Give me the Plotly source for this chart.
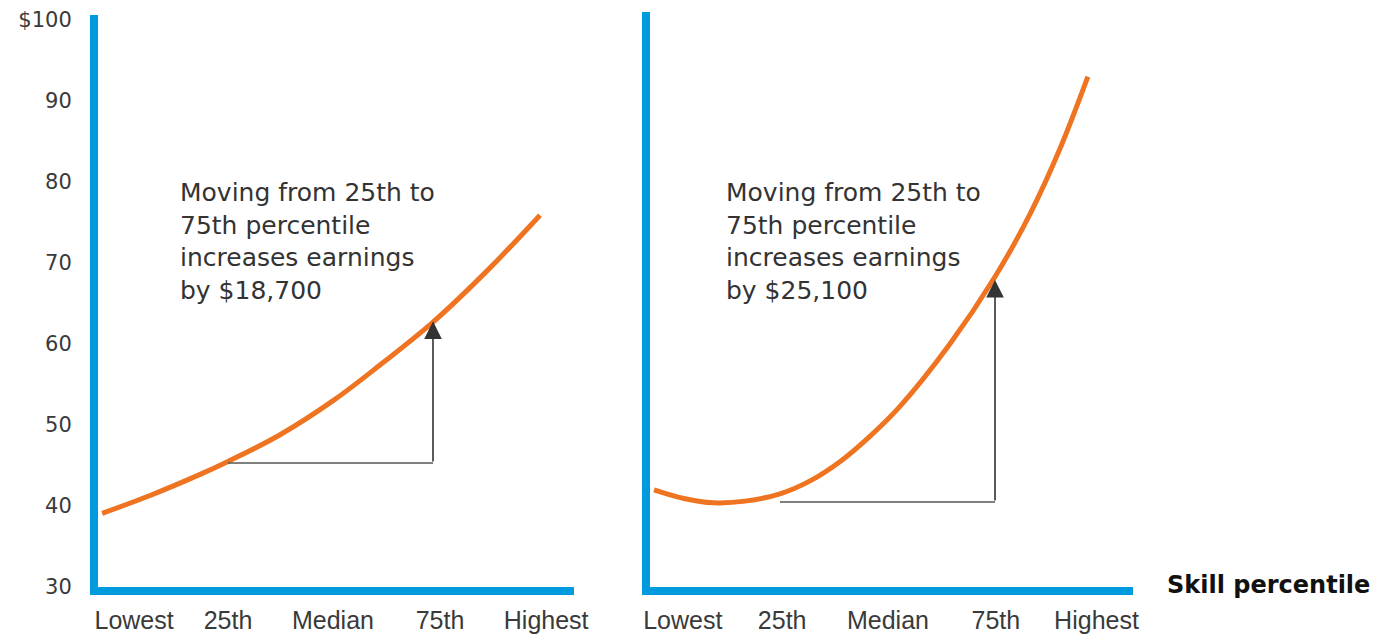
import plotly.graph_objects as go

# ---------------- data ----------------
tick_labels = ["Lowest", "25th", "Median", "75th", "Highest"]
left_tick_pos = [2.1, 25, 50.6, 76.7, 102.6]
right_tick_pos = [2.4, 25.5, 50.1, 75.2, 98.6]

y_tick_vals = [30, 40, 50, 60, 70, 80, 90, 100]
y_tick_text = ["30", "40", "50", "60", "70", "80", "90", "$100"]

left_pct = [-5.7, 6.0, 18.2, 25, 37.7, 50.9, 62.3, 75, 88.9, 101.1]
left_val = [39.1, 41.3, 43.9, 45.5, 48.8, 53.1, 57.5, 62.7, 69.4, 75.9]

right_pct = [-4.3, 2.9, 9.4, 16.9, 25.0, 32.0, 39.0, 45.9, 52.9, 64.5, 75.0, 83.1, 90.1, 96.6]
right_val = [42.0, 40.9, 40.4, 40.6, 41.5, 43.1, 45.5, 48.6, 52.3, 60.0, 68.3, 76.0, 84.1, 93.0]

left_arrow = dict(x0=25, x1=75, base=45.3, tip=62.8)
right_arrow = dict(x0=25, x1=75, base=40.5, tip=67.9)

left_text = "Moving from 25th to<br>75th percentile<br>increases earnings<br>by $18,700"
right_text = "Moving from 25th to<br>75th percentile<br>increases earnings<br>by $25,100"
axis_title = "Skill percentile"

# ---------------- style ----------------
BLUE = "#009BDE"
ORANGE = "#EF7421"
GRAY = "#555555"
TXT = "#3a3a3a"

fig = go.Figure()

fig.add_trace(go.Scatter(x=left_pct, y=left_val, mode="lines", line=dict(color=ORANGE, width=5, shape="spline"),
                         xaxis="x", yaxis="y", hoverinfo="skip"))
fig.add_trace(go.Scatter(x=right_pct, y=right_val, mode="lines", line=dict(color=ORANGE, width=5, shape="spline"),
                         xaxis="x2", yaxis="y2", hoverinfo="skip"))

# horizontal part of the L arrows
for arr, xa, ya in [(left_arrow, "x", "y"), (right_arrow, "x2", "y2")]:
    fig.add_trace(go.Scatter(x=[arr["x0"], arr["x1"]], y=[arr["base"], arr["base"]], mode="lines",
                             line=dict(color=GRAY, width=1.6), xaxis=xa, yaxis=ya, hoverinfo="skip"))

annotations = []
for arr, xa, ya in [(left_arrow, "x", "y"), (right_arrow, "x2", "y2")]:
    annotations.append(dict(x=arr["x1"], y=arr["tip"], ax=arr["x1"], ay=arr["base"], xref=xa, yref=ya,
                            axref=xa, ayref=ya, showarrow=True, arrowhead=2, arrowsize=2.2,
                            arrowwidth=1.6, arrowcolor="#333333", text=""))

ann_font = dict(family="DejaVu Sans", size=25, color="#333333")
annotations.append(dict(x=12.8, y=72.7, xref="x", yref="y", text=left_text, showarrow=False,
                        xanchor="left", yanchor="middle", align="left", font=ann_font))
annotations.append(dict(x=11.9, y=72.7, xref="x2", yref="y2", text=right_text, showarrow=False,
                        xanchor="left", yanchor="middle", align="left", font=ann_font))
annotations.append(dict(x=1.031, y=0.003, xref="paper", yref="paper", text="<b>" + axis_title + "</b>",
                        showarrow=False, xanchor="left", yanchor="middle",
                        font=dict(family="DejaVu Sans", size=24, color="#111111")))

xtick_font = dict(family="Liberation Sans", size=25, color=TXT)
common_x = dict(showgrid=False, zeroline=False, showline=True, linecolor=BLUE, linewidth=8,
                ticks="outside", ticklen=4, tickcolor="rgba(0,0,0,0)", tickfont=xtick_font,
                ticktext=tick_labels, fixedrange=True, automargin=False)

fig.update_layout(
    template="none",
    width=1378, height=636,
    margin=dict(l=98, r=245, t=12, b=49, autoexpand=False),
    paper_bgcolor="white", plot_bgcolor="white",
    showlegend=False,
    xaxis=dict(domain=[0, 476 / 1035], range=[-6.707, 109.39], anchor="y",
               tickvals=left_tick_pos, **common_x),
    xaxis2=dict(domain=[552 / 1035, 1], range=[-5.233, 107.09], anchor="y2",
                tickvals=right_tick_pos, **common_x),
    yaxis=dict(domain=[0, 572 / 575], range=[30, 30 + 572 / 8.1], anchor="x",
               showgrid=False, zeroline=False, showline=True, linecolor=BLUE, linewidth=8,
               tickvals=y_tick_vals, ticktext=y_tick_text, ticks="outside", ticklen=14,
               tickcolor="rgba(0,0,0,0)", automargin=False,
               tickfont=dict(family="DejaVu Sans", size=21, color=TXT), fixedrange=True),
    yaxis2=dict(domain=[0, 1], range=[30, 30 + 575 / 8.1], anchor="x2",
                showgrid=False, zeroline=False, showline=True, linecolor=BLUE, linewidth=8,
                showticklabels=False, ticks="", fixedrange=True, automargin=False),
    annotations=annotations,
)

fig.write_html("out.html", config={"displayModeBar": False})
